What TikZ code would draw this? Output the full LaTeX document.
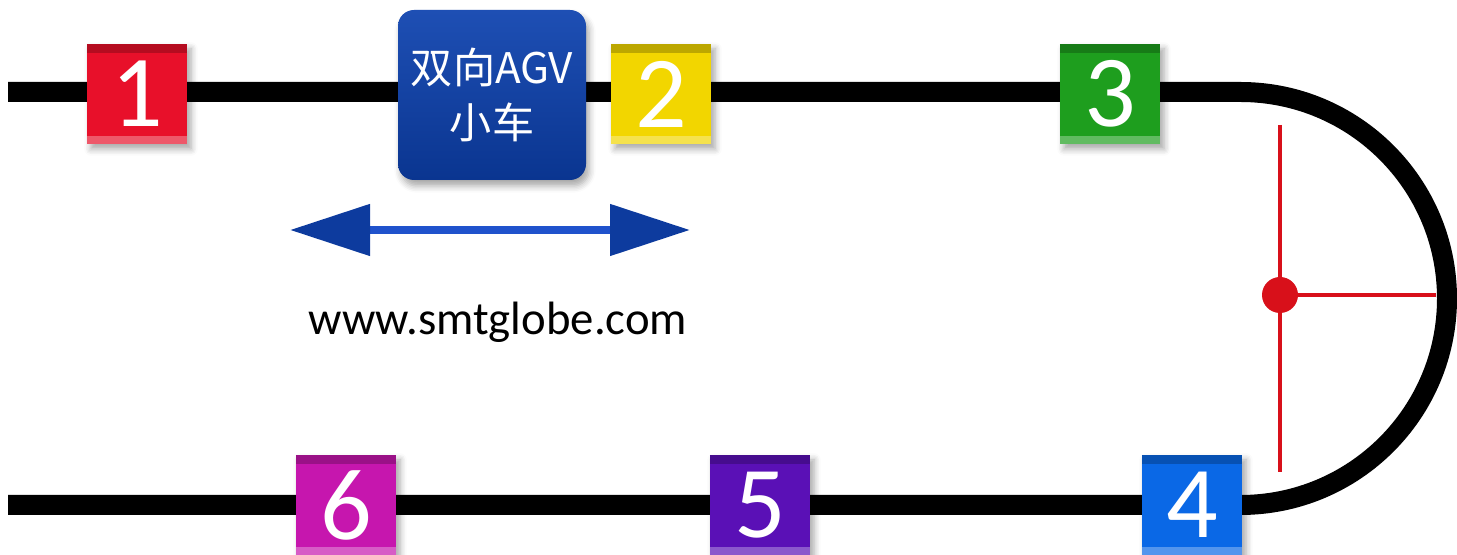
\documentclass[tikz,border=0pt]{standalone}
\usepackage{fontspec}
\setmainfont{Carlito}
\newfontfamily\cjkfont{Noto Sans CJK SC}
\newfontfamily\numfont{Carlito}
\usetikzlibrary{arrows.meta,shadows.blur,positioning}

\definecolor{stred}{HTML}{E8102A}
\definecolor{styellow}{HTML}{F2D600}
\definecolor{stgreen}{HTML}{1E9E1E}
\definecolor{stblue}{HTML}{0A68E6}
\definecolor{stpurple}{HTML}{5A10B6}
\definecolor{stmagenta}{HTML}{C616AE}
\definecolor{agvtop}{HTML}{1E4FB4}
\definecolor{agvbot}{HTML}{0A3590}
\definecolor{arrowline}{HTML}{1F52CC}
\definecolor{arrowhead}{HTML}{0D3B9E}
\definecolor{crossred}{HTML}{D8101A}

\tikzset{
    track/.style={line width=0.2cm, black},
    station/.style={minimum size=1cm, inner sep=0pt,
        blur shadow={shadow xshift=0.4mm, shadow yshift=-0.5mm,
            shadow blur steps=5, shadow opacity=35},
        path picture={
            \fill[black, opacity=0.22] (path picture bounding box.north west)
                rectangle ([yshift=-0.09cm]path picture bounding box.north east);
            \fill[white, opacity=0.3] (path picture bounding box.south west)
                rectangle ([yshift=0.08cm]path picture bounding box.south east);
        }},
    digit/.style={inner sep=0pt, text=white,
        font=\numfont\fontsize{29}{29}\selectfont},
    cart/.style={minimum width=1.88cm, minimum height=1.7cm, inner sep=0pt,
        rounded corners=0.16cm, top color=agvtop, bottom color=agvbot,
        text=white, align=center,
        font=\cjkfont\fontsize{12}{15.5}\selectfont,
        blur shadow={shadow xshift=0.3mm, shadow yshift=-0.6mm,
            shadow blur steps=5, shadow opacity=35}},
    guide/.style={line width=0.045cm, crossred}
}

\begin{document}
\begin{tikzpicture}
    \useasboundingbox (0,0) rectangle (14.57,-5.55);
    \clip (0,0) rectangle (14.57,-5.55);

    % Track ends
    \coordinate (tl) at (0.08,-0.92);
    \coordinate (tr) at (12.405,-0.92);
    \coordinate (bl) at (0.08,-5.05);

    % Loop track
    \draw[track] (tl) -- (tr) arc[start angle=90, end angle=-90, radius=2.065]
        -- (bl);

    % Red cross inside the bend
    \coordinate (vtop) at (12.80,-1.25);
    \coordinate (vbot) at (12.80,-4.72);
    \coordinate (hub) at (12.80,-2.95);
    \coordinate (hend) at (14.36,-2.95);
    \draw[guide] (vtop) -- (vbot);
    \draw[guide] (hub) -- (hend);
    \fill[crossred] (hub) circle (0.18);

    % Stations
    \foreach \n/\x/\y/\c in {1/1.37/-0.94/stred, 2/6.61/-0.94/styellow,
        3/11.10/-0.94/stgreen, 4/11.92/-5.05/stblue,
        5/7.60/-5.05/stpurple, 6/3.46/-5.05/stmagenta} {
        \node[station, fill=\c] (s\n) at (\x, \y) {};
        \node[digit] (d\n) at (s\n.center) {\n};
    }

    % AGV cart
    \node[cart] (agv) at (4.92,-0.95) {双向AGV\\小车};

    % Travel direction
    \coordinate (al) at (2.90,-2.30);
    \coordinate (ar) at (6.90,-2.30);
    \draw[arrowline, line width=0.08cm,
        {Triangle[length=0.8cm, width=0.5cm, color=arrowhead]}-{Triangle[length=0.8cm, width=0.5cm, color=arrowhead]}]
        (al) -- (ar);

    \node[font=\fontsize{13.3}{16}\selectfont] (url) at (4.98,-3.22)
    {www.smtglobe.com};
\end{tikzpicture}
\end{document}
